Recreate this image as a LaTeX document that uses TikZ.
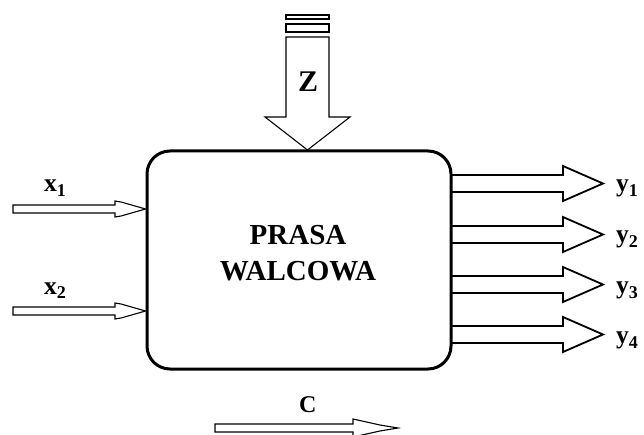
\documentclass[tikz,border=0pt]{standalone}
\usepackage{fontspec}
\setmainfont{Liberation Serif}
\newcommand{\lbl}[2]{#1\raisebox{-5pt}{\fontsize{18}{18}\selectfont #2}}
\begin{document}
\begin{tikzpicture}[x=1pt,y=-1pt,
  thinarrow/.style={draw=black,line width=1.1pt,fill=white,line join=miter},
  outarrow/.style={draw=black,line width=1.8pt,fill=white,line join=miter},
  lab/.style={font=\fontsize{25.5}{26}\selectfont\bfseries,inner sep=0pt,anchor=base west},
  big/.style={font=\fontsize{29}{30}\selectfont\bfseries,inner sep=0pt,anchor=base}]
\useasboundingbox (0,0) rectangle (644,435);
% outputs (behind box)
\foreach \t/\n in {175/1,226/2,276/3,326/4}{
  \draw[outarrow] (440,\t) -- (563,\t) -- (563,\t-9) -- (603,\t+8.5) -- (563,\t+26) -- (563,\t+17) -- (440,\t+17);
  \node[lab] (y\n) at (616,\t+17) {\lbl{y}{\n}};
}
% box
\draw[line width=3pt,rounded corners=23pt,fill=white] (147,151) rectangle (451,369);
\node[big] (prasa) at (298,245) {PRASA};
\node[big] (walcowa) at (298,280) {WALCOWA};
% Z arrow
\draw[thinarrow] (286,15) rectangle (329,19);
\draw[thinarrow] (286,24) rectangle (329,32);
\draw[thinarrow] (286,37) -- (329,37) -- (329,117) -- (350,117) -- (307.5,150) -- (265,117) -- (286,117) -- cycle;
\node[big,font=\fontsize{30}{30}\selectfont\bfseries] (z) at (308,92) {Z};
% inputs
\foreach \yy/\n in {205/1,307/2}{
  \draw[thinarrow] (13,\yy) -- (115,\yy) -- (115,\yy-4) -- (121,\yy-3) -- (145.5,\yy+4) -- (121,\yy+11) -- (115,\yy+12) -- (115,\yy+8) -- (13,\yy+8) -- cycle;
  \node[lab] (x\n) at (44,\yy-13) {\lbl{x}{\n}};
}
% C arrow
\draw[thinarrow] (215,424) -- (353,424) -- (353,419) -- (362,421) -- (380,425) -- (398,428) -- (380,431) -- (362,435) -- (353,437) -- (353,432) -- (215,432) -- cycle;
\node[lab,font=\fontsize{24}{24}\selectfont\bfseries] (c) at (299,412) {C};
\end{tikzpicture}
\end{document}
